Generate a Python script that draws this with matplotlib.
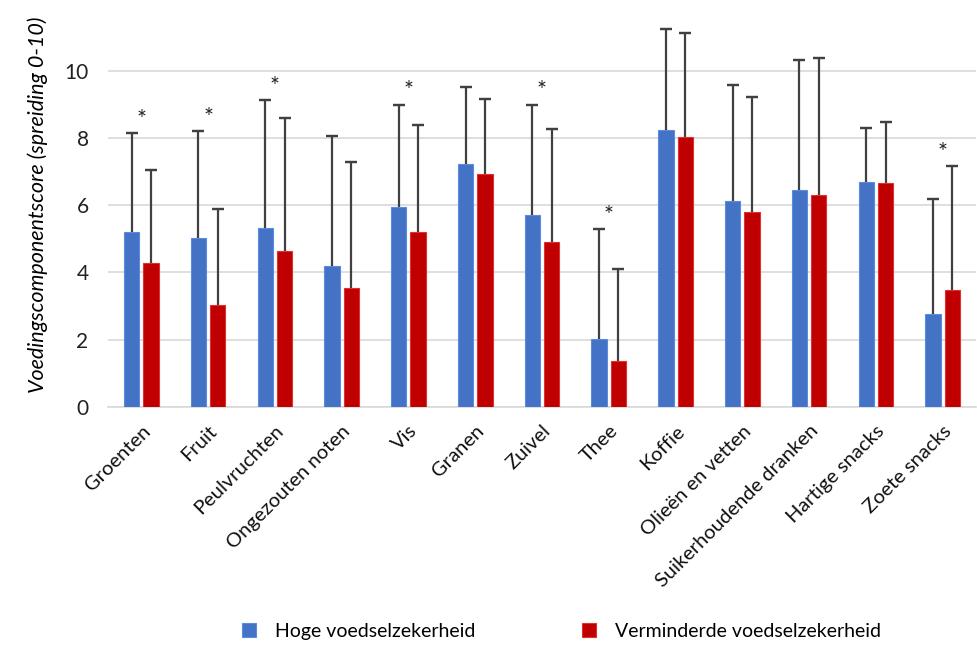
import numpy as np
import matplotlib.pyplot as plt
import matplotlib.transforms as mtransforms

plt.rcParams['font.family'] = ['Lato', 'DejaVu Sans']

categories = ["Groenten", "Fruit", "Peulvruchten", "Ongezouten noten", "Vis", "Granen",
              "Zuivel", "Thee", "Koffie", "Olieën en vetten", "Suikerhoudende dranken",
              "Hartige snacks", "Zoete snacks"]
hoog = [5.19, 5.01, 5.31, 4.20, 5.95, 7.23, 5.71, 2.01, 8.24, 6.12, 6.44, 6.70, 2.77]
hoog_sd = [2.95, 3.18, 3.81, 3.86, 3.03, 2.28, 3.27, 3.28, 2.98, 3.45, 3.86, 1.60, 3.42]
vermin = [4.29, 3.04, 4.64, 3.52, 5.20, 6.92, 4.90, 1.36, 8.02, 5.78, 6.29, 6.67, 3.47]
vermin_sd = [2.76, 2.85, 3.95, 3.77, 3.17, 2.24, 3.36, 2.74, 3.09, 3.43, 4.09, 1.79, 3.68]
significant = [True, True, True, False, True, False, True, True, False, False, False, False, True]

blue = '#4472C4'
red = '#C00000'

x = np.arange(len(categories))
w = 0.23
off = 0.145

fig = plt.figure(figsize=(9.77, 6.52), dpi=100)
ax = fig.add_axes([0.1105, 0.376, 0.8885, 0.619])

ax.bar(x - off, hoog, w, color=blue, edgecolor='#5B8BE0', linewidth=0.8,
       label='Hoge voedselzekerheid', zorder=3)
ax.bar(x + off, vermin, w, color=red, edgecolor='#E03030', linewidth=0.8,
       label='Verminderde voedselzekerheid', zorder=3)

# upper error bars only (SD)
err_kw = dict(fmt='none', ecolor='#404040', elinewidth=1.6, capthick=1.6, zorder=4)
for xs, vals, sds in [(x - off, hoog, hoog_sd), (x + off, vermin, vermin_sd)]:
    vals = np.array(vals)
    sds = np.array(sds)
    ax.errorbar(xs, vals + sds, yerr=[sds, np.zeros(len(sds))], capsize=0, **err_kw)
    ax.errorbar(xs, vals + sds, yerr=0, capsize=4.5, **err_kw)

# asterisks for significant differences
for i, sig in enumerate(significant):
    if sig:
        top = max(hoog[i] + hoog_sd[i], vermin[i] + vermin_sd[i])
        ax.text(x[i], top + 0.1, '*', ha='center', va='bottom', fontsize=17, color='#222222')

ax.set_xlim(-0.5, len(categories) - 0.5)
ax.set_ylim(0, 12)
ax.set_yticks(range(0, 11, 2))
ax.set_xticks(x)
ax.set_xticklabels(categories, rotation=45, ha='right', rotation_mode='anchor', fontsize=14.5)
shift = mtransforms.ScaledTranslation(-4 / 100, 0, fig.dpi_scale_trans)
for lbl in ax.get_xticklabels():
    lbl.set_transform(lbl.get_transform() + shift)
ax.tick_params(axis='y', labelsize=15, length=0, pad=14, labelcolor='#222222')
ax.tick_params(axis='x', length=0, pad=11, labelcolor='#111111')
ax.grid(axis='y', color='#D9D9D9', linewidth=1.2, zorder=0)
for s in ['top', 'right', 'left']:
    ax.spines[s].set_visible(False)
ax.spines['bottom'].set_color('#D9D9D9')
ax.spines['bottom'].set_linewidth(1.2)

ax.set_ylabel('Voedingscomponentscore (spreiding 0-10)', fontsize=15.5, style='italic', labelpad=12)

fig.legend(loc='lower center', bbox_to_anchor=(0.575, -0.008), ncol=2, frameon=False,
           fontsize=14, handlelength=0.7, handleheight=0.7, columnspacing=5.5, handletextpad=1.0)

fig.savefig('out.png', dpi=100)
